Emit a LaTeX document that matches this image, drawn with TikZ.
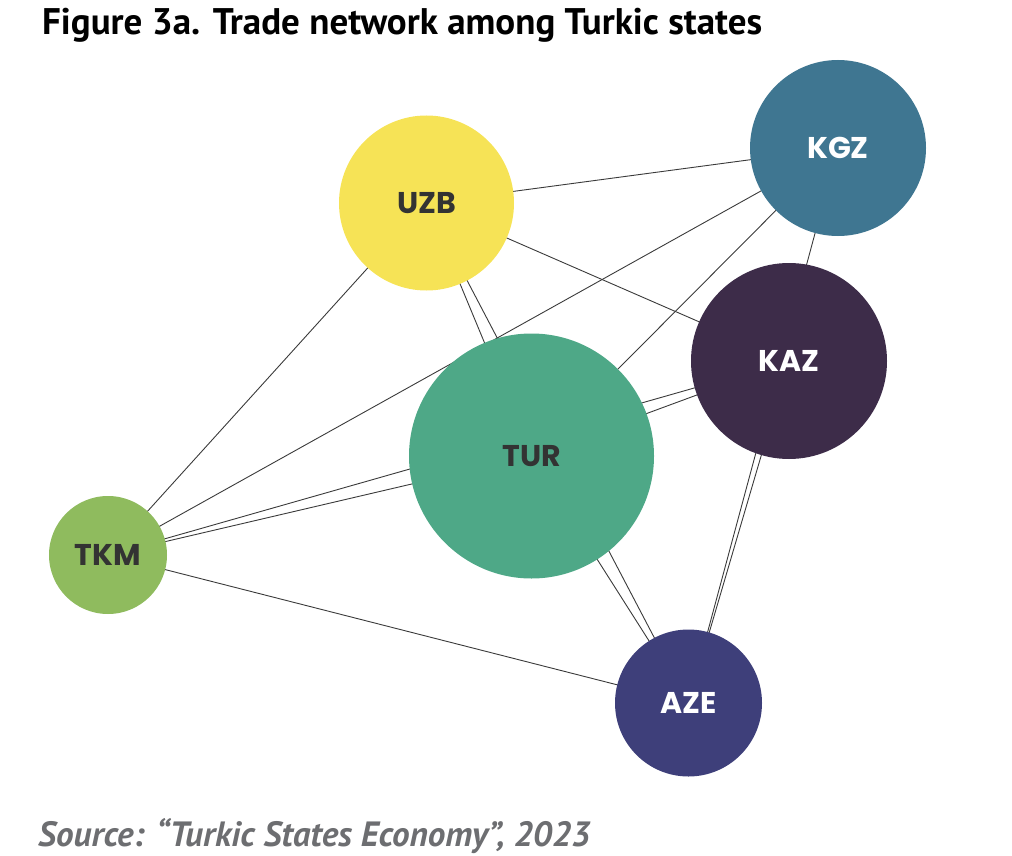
\documentclass[tikz,border=0pt]{standalone}
\usepackage{fontspec}
\setmainfont{PT Sans}
\newfontfamily\labfont{Poppins}
\usetikzlibrary{backgrounds}
\definecolor{cUZB}{HTML}{F6E356}
\definecolor{cKGZ}{HTML}{3F7691}
\definecolor{cKAZ}{HTML}{3D2C49}
\definecolor{cTUR}{HTML}{4EA887}
\definecolor{cTKM}{HTML}{8FBB5E}
\definecolor{cAZE}{HTML}{3E3F7A}
\definecolor{edgec}{HTML}{3A3A3A}
\definecolor{darktxt}{HTML}{333333}
\definecolor{srcgray}{HTML}{6D6E71}
\begin{document}
\begin{tikzpicture}[x=1pt,y=-1pt,
  country/.style={circle, inner sep=0pt, font=\labfont\bfseries\fontsize{30}{30}\selectfont},
  link/.style={draw=edgec, line width=0.9pt}]
\useasboundingbox (0,0) rectangle (1012,856);
\node[country, fill=cUZB, text=darktxt, minimum size=175pt] (UZB) at (426.5,203) {UZB};
\node[country, fill=cKGZ, text=white, minimum size=176pt] (KGZ) at (838,148) {KGZ};
\node[country, fill=cKAZ, text=white, minimum size=196pt] (KAZ) at (789,361) {KAZ};
\node[country, fill=cTUR, text=darktxt, minimum size=245pt] (TUR) at (531.5,456) {TUR};
\node[country, fill=cTKM, text=darktxt, minimum size=118pt] (TKM) at (108,555) {TKM};
\node[country, fill=cAZE, text=white, minimum size=147pt] (AZE) at (688.5,703) {AZE};
\begin{pgfonlayer}{background}
\foreach \a/\b in {UZB/KGZ,UZB/KAZ,UZB/TUR,UZB/TKM,UZB/AZE,
                   KGZ/TUR,KGZ/TKM,KGZ/AZE,
                   KAZ/TUR,KAZ/TKM,KAZ/AZE,
                   TUR/TKM,TUR/AZE,TKM/AZE}
  \draw[link] (\a.center) -- (\b.center);
\end{pgfonlayer}
\node[anchor=west, inner sep=0pt] (title) at (42,25)
  {\resizebox{720pt}{!}{\bfseries Figure 3a. Trade network among Turkic states}};
\node[anchor=west, inner sep=0pt, text=srcgray] (source) at (38,836)
  {\resizebox{552pt}{!}{\bfseries\itshape Source: “Turkic States Economy”, 2023}};
\end{tikzpicture}
\end{document}
